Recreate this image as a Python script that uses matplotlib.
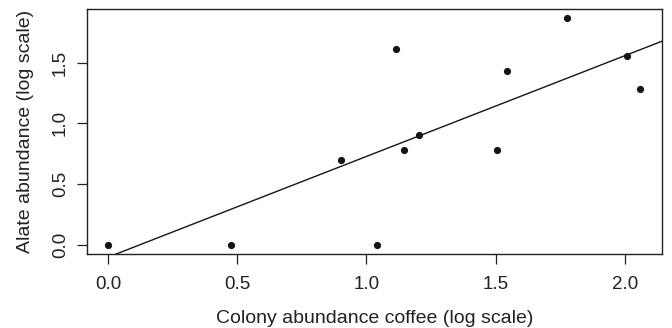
import matplotlib
matplotlib.use("Agg")
import matplotlib.pyplot as plt
import numpy as np

plt.rcParams['font.family'] = ['Liberation Sans', 'DejaVu Sans']

colony_log = [0.0, 0.477, 0.903, 1.041, 1.114, 1.146, 1.204, 1.505, 1.544, 1.778, 2.009, 2.061]
alate_log = [0.0, 0.0, 0.699, 0.0, 1.613, 0.778, 0.903, 0.778, 1.431, 1.866, 1.556, 1.279]
fit_intercept = -0.100
fit_slope = 0.828
x_ticks = [0.0, 0.5, 1.0, 1.5, 2.0]
y_ticks = [0.0, 0.5, 1.0, 1.5]

fig = plt.figure(figsize=(6.72, 3.28), dpi=100)
ax = fig.add_axes([0.1295, 0.2256, 0.9847 - 0.1295, 0.9726 - 0.2256])

ax.scatter(colony_log, alate_log, s=27, color='#151515', zorder=3, linewidths=0)

xmin, xmax = min(colony_log), max(colony_log)
ymin, ymax = min(alate_log), max(alate_log)
xpad = 0.04 * (xmax - xmin)
ypad = 0.04 * (ymax - ymin)
ax.set_xlim(xmin - xpad, xmax + xpad)
ax.set_ylim(ymin - ypad, ymax + ypad)

xl = np.array(ax.get_xlim())
ax.plot(xl, fit_intercept + fit_slope * xl, color='#151515', lw=1.0, zorder=2)
ax.set_xlim(xmin - xpad, xmax + xpad)

ax.set_xticks(x_ticks)
ax.set_xticklabels([f"{v:.1f}" for v in x_ticks])
ax.set_yticks(y_ticks)
ax.set_yticklabels([f"{v:.1f}" for v in y_ticks], rotation=90, va='center')

ax.tick_params(axis='both', direction='out', length=7, width=0.9, color='#222222',
               labelsize=13.5, labelcolor='#222222')
ax.tick_params(axis='x', pad=9)
ax.tick_params(axis='y', pad=6)
for sp in ax.spines.values():
    sp.set_linewidth(1.0)
    sp.set_color('#222222')

ax.set_xlabel("Colony abundance coffee (log scale)", fontsize=14, color='#222222', labelpad=12)
ax.set_ylabel("Alate abundance (log scale)", fontsize=14, color='#222222', labelpad=13)

fig.savefig("out.png", dpi=100)
